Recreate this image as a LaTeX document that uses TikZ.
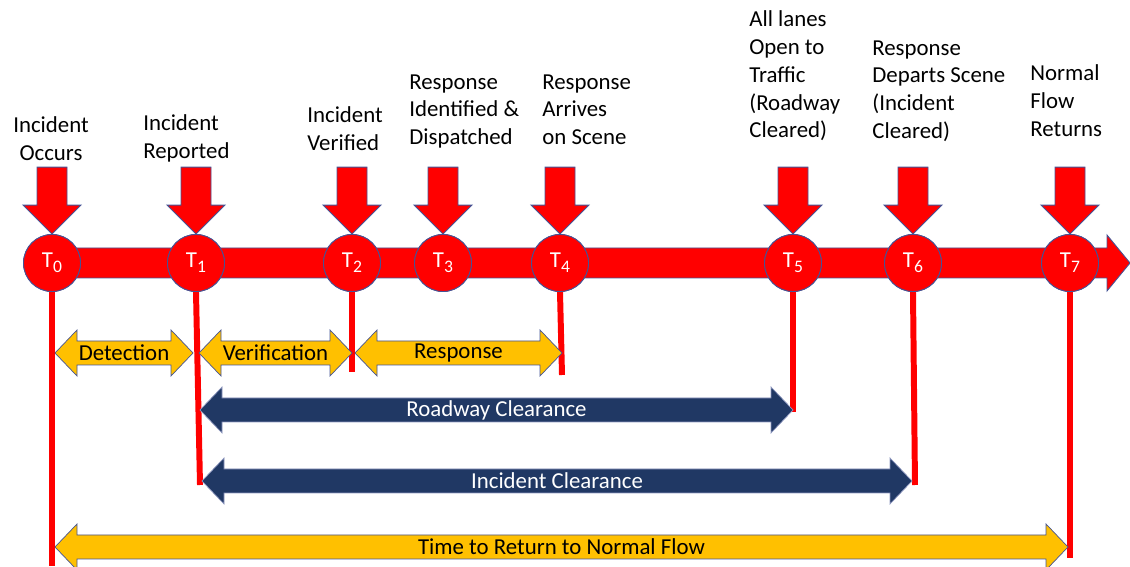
\documentclass[tikz,border=0pt]{standalone}
\usepackage{fontspec}
\setmainfont{Carlito}
\usepackage{tikz}
\usetikzlibrary{calc}

\definecolor{flowred}{RGB}{255,0,0}
\definecolor{spanyellow}{RGB}{255,192,0}
\definecolor{spannavy}{RGB}{32,56,100}
\definecolor{edgeblue}{RGB}{68,84,150}

\tikzset{
  tnode/.style={circle, fill=flowred, draw=edgeblue, line width=0.5pt, minimum size=1.14cm, inner sep=0pt, text=white, font=\fontsize{13}{16}\selectfont},
  eventlabel/.style={inner sep=0pt, align=left, anchor=north west, font=\fontsize{13}{15.9}\selectfont},
  dropline/.style={flowred, line width=3.4pt},
  yellowspan/.style={fill=spanyellow, draw=edgeblue, line width=0.4pt},
  navyspan/.style={fill=spannavy, draw=edgeblue!60, line width=0.4pt},
  spantext/.style={inner sep=0pt, font=\fontsize{13}{16}\selectfont},
}

% double headed span between two tips
\newcommand{\spanarrow}[3]{%
  \draw[#1] (#2) -- ($(#2)+(22,-23)$) -- ($(#2)+(22,-12)$) -- ($(#3)+(-22,-12)$) -- ($(#3)+(-22,-23)$) -- (#3)
    -- ($(#3)+(-22,23)$) -- ($(#3)+(-22,12)$) -- ($(#2)+(22,12)$) -- ($(#2)+(22,23)$) -- cycle;}

% red pointer down onto an event
\newcommand{\cuearrow}[1]{%
  \draw[fill=flowred, draw=edgeblue, line width=0.5pt] (#1.north) -- ++(-29,-29) -- ++(14,0) -- ++(0,-38)
    -- ++(30,0) -- ++(0,38) -- ++(14,0) -- cycle;}

% event name with lowered index
\newcommand{\tname}[1]{T\raisebox{-0.45ex}{\fontsize{10}{10}\selectfont #1}}

\begin{document}
\begin{tikzpicture}[x=0.02cm, y=-0.02cm]
\useasboundingbox (0,0) rectangle (1130,567);

% events
\coordinate (t0c) at (52,263);
\coordinate (flowend) at (1130,263);
\draw[fill=flowred, draw=edgeblue, line width=0.5pt] ($(t0c)+(0,-15)$) -- ($(flowend)+(-23,-15)$) -- ($(flowend)+(-23,-28)$) -- (flowend)
  -- ($(flowend)+(-23,28)$) -- ($(flowend)+(-23,15)$) -- ($(t0c)+(0,15)$) -- cycle;

% drop line ends
\coordinate (d0) at (52,566);
\coordinate (d1) at (200,485);
\coordinate (d2) at (352,372);
\coordinate (d4) at (562,375);
\coordinate (d5) at (793,412);
\coordinate (d6) at (915,485);
\coordinate (d7) at (1070,558);

\node[tnode] (t0) at (52,263) {};
\node[tnode] (t1) at (196,263) {};
\node[tnode] (t2) at (352,263) {};
\node[tnode] (t3) at (443,263) {};
\node[tnode] (t4) at (560,263) {};
\node[tnode] (t5) at (793,263) {};
\node[tnode] (t6) at (913,263) {};
\node[tnode] (t7) at (1070,263) {};

\draw[dropline] (t0.south) -- (d0);
\draw[dropline] (t1.south) -- (d1);
\draw[dropline] (t2.south) -- (d2);
\draw[dropline] (t4.south) -- (d4);
\draw[dropline] (t5.south) -- (d5);
\draw[dropline] (t6.south) -- (d6);
\draw[dropline] (t7.south) -- (d7);

\foreach \i in {0,...,7}{
  \node[tnode] at (t\i) {\tname{\i}};
  \cuearrow{t\i}
}

% spans
\coordinate (det-l) at (55,353);
\coordinate (det-r) at (193,353);
\coordinate (ver-l) at (199,353);
\coordinate (ver-r) at (352,353);
\coordinate (res-l) at (355,353);
\coordinate (res-r) at (562,353);
\coordinate (road-l) at (200,410);
\coordinate (road-r) at (793,410);
\coordinate (inc-l) at (202,481);
\coordinate (inc-r) at (912,481);
\coordinate (norm-l) at (55,547);
\coordinate (norm-r) at (1068,547);

\spanarrow{yellowspan}{det-l}{det-r}
\spanarrow{yellowspan}{ver-l}{ver-r}
\spanarrow{yellowspan}{res-l}{res-r}
\spanarrow{navyspan}{road-l}{road-r}
\spanarrow{navyspan}{inc-l}{inc-r}
\spanarrow{yellowspan}{norm-l}{norm-r}

\node[spantext] (det) at ($(det-l)!0.5!(det-r)$) {Detection};
\node[spantext] (ver) at ($(ver-l)!0.5!(ver-r)$) {Verification};
\node[spantext] (res) at ($(res-l)!0.5!(res-r)$) {Response};
\node[spantext, text=white] (road) at ($(road-l)!0.5!(road-r)$) {Roadway Clearance};
\node[spantext, text=white] (inc) at ($(inc-l)!0.5!(inc-r)$) {Incident Clearance};
\node[spantext] (norm) at ($(norm-l)!0.5!(norm-r)$) {Time to Return to Normal Flow};

% event texts
\node[eventlabel, anchor=north, align=center] (lab0) at (51,116) {Incident\\Occurs};
\node[eventlabel] (lab1) at (143,114) {Incident\\Reported};
\node[eventlabel] (lab2) at (307,106) {Incident\\Verified};
\node[eventlabel] (lab3) at (409,74) {Response\\Identified \&\\Dispatched};
\node[eventlabel] (lab4) at (542,74) {Response\\Arrives\\on Scene};
\node[eventlabel] (lab5) at (749,10) {All lanes\\Open to\\Traffic\\(Roadway\\Cleared)};
\node[eventlabel] (lab6) at (872,40) {Response\\Departs Scene\\(Incident\\Cleared)};
\node[eventlabel] (lab7) at (1030,64) {Normal\\Flow\\Returns};
\end{tikzpicture}
\end{document}
